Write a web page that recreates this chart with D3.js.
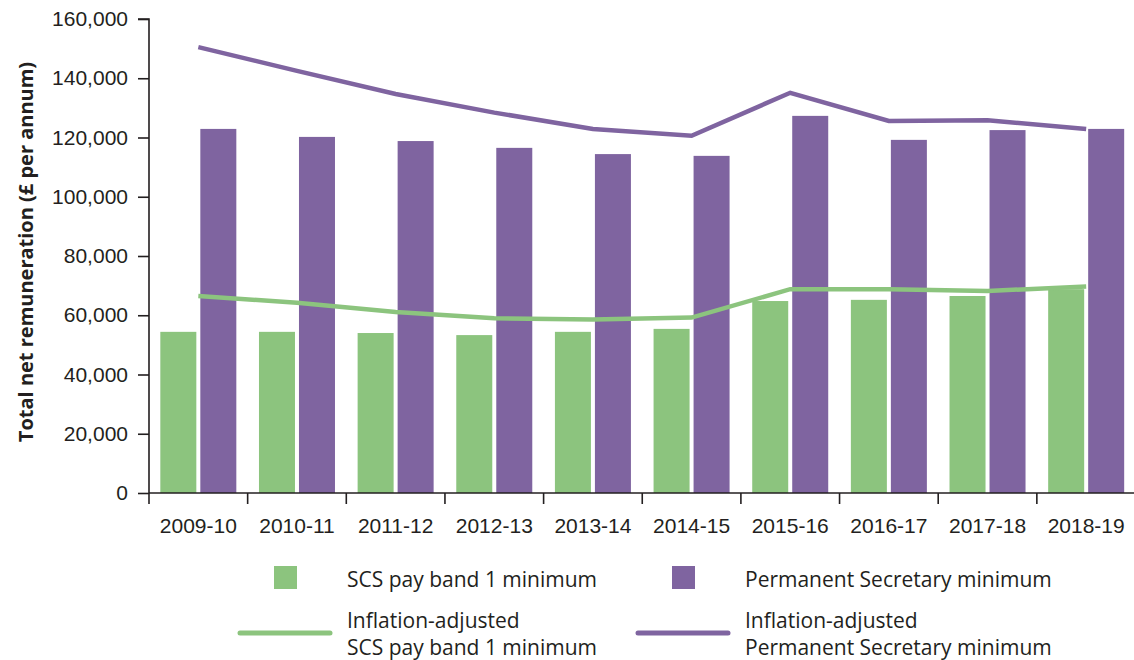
<!DOCTYPE html>
<html>
<head>
<meta charset="utf-8">
<script src="https://cdn.jsdelivr.net/npm/d3@7"></script>
<style>
  html, body { margin: 0; padding: 0; background: #fff; }
  svg { display: block; font-family: "Open Sans", "Noto Sans", sans-serif; }
  .axis text { fill: #231f20; }
</style>
</head>
<body>
<svg id="chart" width="1134" height="660"></svg>
<script>
// Financial years on the x axis
const years = ["2009-10", "2010-11", "2011-12", "2012-13", "2013-14",
               "2014-15", "2015-16", "2016-17", "2017-18", "2018-19"];

// Nominal minimum pay (£ per annum)
const scsBand1Min = [54400, 54400, 54000, 53300, 54400, 55400, 64800, 65200, 66500, 68800];
const permSecMin  = [122900, 120200, 118800, 116500, 114400, 113800, 127300, 119200, 122500, 122900];

// Inflation-adjusted minimum pay (£ per annum)
const scsBand1Adj = [66500, 64200, 61100, 59000, 58600, 59200, 68800, 68800, 68200, 69700];
const permSecAdj  = [150500, 142500, 134700, 128400, 122900, 120600, 135100, 125600, 125800, 122900];

// Y axis ticks
const yTicks = [0, 20000, 40000, 60000, 80000, 100000, 120000, 140000, 160000];

const seriesNames = ["SCS pay band 1 minimum", "Permanent Secretary minimum"];
const lineNames = ["Inflation-adjusted\nSCS pay band 1 minimum", "Inflation-adjusted\nPermanent Secretary minimum"];

const GREEN = "#8cc47e";
const PURPLE = "#7f64a0";
const INK = "#231f20";
const FONT = "21px";

const svg = d3.select("#chart");

const plot = { left: 149, right: 1135.5, top: 19, bottom: 493 };

const x0 = d3.scaleBand().domain(years).range([plot.left, plot.right]).padding(0);
const x1 = d3.scaleBand().domain(["scs", "perm"]).range([0, x0.bandwidth()])
  .paddingInner(0.1).paddingOuter(0.283);
const y = d3.scaleLinear().domain([0, 160000]).range([plot.bottom, plot.top]);

const barData = years.map((yr, i) => ({ year: yr, scs: scsBand1Min[i], perm: permSecMin[i] }));
const colors = { scs: GREEN, perm: PURPLE };

// Bars
const groups = svg.append("g").selectAll("g").data(barData).join("g")
  .attr("transform", d => `translate(${x0(d.year)},0)`);
groups.selectAll("rect")
  .data(d => ["scs", "perm"].map(k => ({ key: k, value: d[k] })))
  .join("rect")
  .attr("x", d => x1(d.key))
  .attr("width", x1.bandwidth())
  .attr("y", d => y(d.value))
  .attr("height", d => y(0) - y(d.value))
  .attr("fill", d => colors[d.key]);

// Inflation-adjusted lines through group centres
const line = d3.line()
  .x((d, i) => x0(years[i]) + x0.bandwidth() / 2)
  .y(d => y(d));

svg.append("path").datum(scsBand1Adj)
  .attr("d", line).attr("fill", "none")
  .attr("stroke", GREEN).attr("stroke-width", 4.5);
svg.append("path").datum(permSecAdj)
  .attr("d", line).attr("fill", "none")
  .attr("stroke", PURPLE).attr("stroke-width", 4.5);

// Y axis
const yAxis = svg.append("g").attr("class", "axis")
  .attr("transform", `translate(${plot.left},0)`)
  .call(d3.axisLeft(y).tickValues(yTicks).tickFormat(d3.format(",")).tickSize(11).tickPadding(10));
yAxis.selectAll("text").style("font-size", FONT);
yAxis.selectAll("line, path").attr("stroke", INK).attr("stroke-width", 1.6);
yAxis.select(".domain").attr("d", `M-11,${plot.top}H0V${plot.bottom}`);

// X axis: labels at band centres, ticks at band boundaries
const xAxis = svg.append("g").attr("class", "axis")
  .attr("transform", `translate(0,${plot.bottom})`)
  .call(d3.axisBottom(x0).tickSize(0).tickPadding(25));
xAxis.selectAll("text").style("font-size", FONT);
xAxis.select(".domain").attr("stroke", INK).attr("stroke-width", 1.6)
  .attr("d", `M${plot.left},0H${plot.right}`);
xAxis.append("g").selectAll("line").data(years).join("line")
  .attr("x1", d => x0(d)).attr("x2", d => x0(d))
  .attr("y1", 0).attr("y2", 11)
  .attr("stroke", INK).attr("stroke-width", 1.6);

// Y axis title
svg.append("text")
  .attr("transform", "translate(33,252) rotate(-90)")
  .attr("text-anchor", "middle")
  .attr("fill", INK)
  .style("font-size", "20px")
  .style("font-weight", "bold")
  .text("Total net remuneration (£ per annum)");

// Legend
const legend = svg.append("g").style("font-size", FONT).attr("fill", INK);
const legendCols = [{ swatch: 274, line: [240, 330], text: 347 }, { swatch: 672, line: [638, 728], text: 745 }];
const barKeys = ["scs", "perm"];

legendCols.forEach((c, i) => {
  legend.append("rect")
    .attr("x", c.swatch).attr("y", 566).attr("width", 23).attr("height", 23)
    .attr("fill", colors[barKeys[i]]);
  legend.append("text")
    .attr("x", c.text).attr("y", 587)
    .text(seriesNames[i]);

  legend.append("line")
    .attr("x1", c.line[0]).attr("x2", c.line[1])
    .attr("y1", 633).attr("y2", 633)
    .attr("stroke", colors[barKeys[i]]).attr("stroke-width", 5)
    .attr("stroke-linecap", "round");
  const t = legend.append("text").attr("x", c.text).attr("y", 628);
  lineNames[i].split("\n").forEach((s, j) => {
    t.append("tspan").attr("x", c.text).attr("dy", j === 0 ? 0 : 26.5).text(s);
  });
});
</script>
</body>
</html>
